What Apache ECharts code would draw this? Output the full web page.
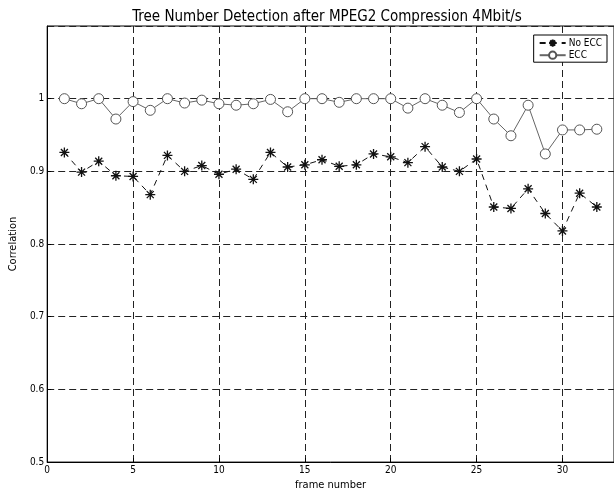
<!DOCTYPE html>
<html>
<head>
<meta charset="utf-8">
<script src="https://cdn.jsdelivr.net/npm/echarts@6/dist/echarts.min.js"></script>
<style>
html, body { margin: 0; padding: 0; background: #fff; }
#main { width: 614px; height: 496px; }
</style>
</head>
<body>
<div id="main"></div>
<script>
var myChart = echarts.init(document.getElementById('main'));

var frames = [1, 2, 3, 4, 5, 6, 7, 8, 9, 10, 11, 12, 13, 14, 15, 16,
    17, 18, 19, 20, 21, 22, 23, 24, 25, 26, 27, 28, 29, 30, 31, 32];
var noEcc = [0.926, 0.899, 0.914, 0.894, 0.893, 0.868, 0.922, 0.900, 0.908, 0.896, 0.903,
    0.889, 0.926, 0.906, 0.909, 0.916, 0.907, 0.909, 0.924, 0.920, 0.912, 0.934,
    0.906, 0.900, 0.917, 0.851, 0.849, 0.876, 0.842, 0.818, 0.870, 0.851];
var ecc = [1.0, 0.993, 1.0, 0.972, 0.996, 0.984, 1.0, 0.994, 0.998, 0.993, 0.991,
    0.993, 0.999, 0.982, 1.0, 1.0, 0.995, 1.0, 1.0, 1.0, 0.987, 1.0,
    0.991, 0.981, 1.0, 0.972, 0.949, 0.991, 0.924, 0.957, 0.957, 0.958];

var fontName = '"Liberation Sans Narrow", "DejaVu Sans Condensed", sans-serif';
var starPath = 'path://M0,-5L0,5M-5,0L5,0M-3.5,-3.5L3.5,3.5M-3.5,3.5L3.5,-3.5';

function pairs(vals) {
    return frames.map(function (f, i) { return [f, vals[i]]; });
}

var gridLine = {
    show: true,
    lineStyle: { color: '#222', type: [7, 4], width: 1 }
};

option = {
    animation: false,
    textStyle: { fontFamily: fontName },
    title: {
        text: 'Tree Number Detection after MPEG2 Compression 4Mbit/s',
        left: 322,
        top: 5,
        textAlign: 'center',
        textStyle: { fontSize: 15, fontWeight: 'normal', color: '#000', fontFamily: fontName }
    },
    legend: {
        orient: 'vertical',
        right: 7,
        top: 35,
        padding: [2, 5, 2, 5],
        itemGap: 1,
        itemWidth: 26,
        itemHeight: 9,
        borderColor: '#000',
        borderWidth: 1,
        backgroundColor: '#fff',
        textStyle: { fontSize: 10, color: '#000', fontFamily: fontName, padding: [0, 0, 0, -2] },
        data: ['No ECC', 'ECC']
    },
    grid: {
        left: 34,
        right: -3,
        top: 26,
        bottom: 28,
        show: true,
        borderColor: '#000',
        borderWidth: 1,
        backgroundColor: '#fff'
    },
    xAxis: {
        type: 'value',
        min: 0,
        max: 33,
        interval: 5,
        name: 'frame number',
        nameLocation: 'middle',
        nameGap: 15,
        nameTextStyle: { fontSize: 11, color: '#000' },
        axisLine: { lineStyle: { color: '#000' } },
        axisTick: { inside: true, length: 4, lineStyle: { color: '#000' } },
        axisLabel: { fontSize: 10, color: '#000', margin: 3, showMaxLabel: false },
        splitLine: gridLine
    },
    yAxis: {
        type: 'value',
        min: 0.5,
        max: 1.1,
        interval: 0.1,
        name: 'Correlation',
        nameLocation: 'middle',
        nameGap: 22,
        nameTextStyle: { fontSize: 11, color: '#000' },
        axisLine: { lineStyle: { color: '#000' } },
        axisTick: { inside: true, length: 4, lineStyle: { color: '#000' } },
        axisLabel: {
            fontSize: 10, color: '#000', margin: 3, showMaxLabel: false,
            formatter: function (v) { return Math.round(v * 10) / 10 + ''; }
        },
        splitLine: gridLine
    },
    series: [
        {
            name: 'No ECC',
            type: 'line',
            data: pairs(noEcc),
            symbol: starPath,
            symbolSize: 10,
            itemStyle: { color: 'none', borderColor: '#111', borderWidth: 1.3 },
            lineStyle: { color: '#111', width: 1, type: [6, 5] },
            z: 3
        },
        {
            name: 'ECC',
            type: 'line',
            data: pairs(ecc),
            symbol: 'circle',
            symbolSize: 10,
            itemStyle: { color: '#fff', borderColor: '#555', borderWidth: 1 },
            lineStyle: { color: '#666', width: 1 },
            z: 2
        }
    ]
};

myChart.setOption(option);
</script>
</body>
</html>
